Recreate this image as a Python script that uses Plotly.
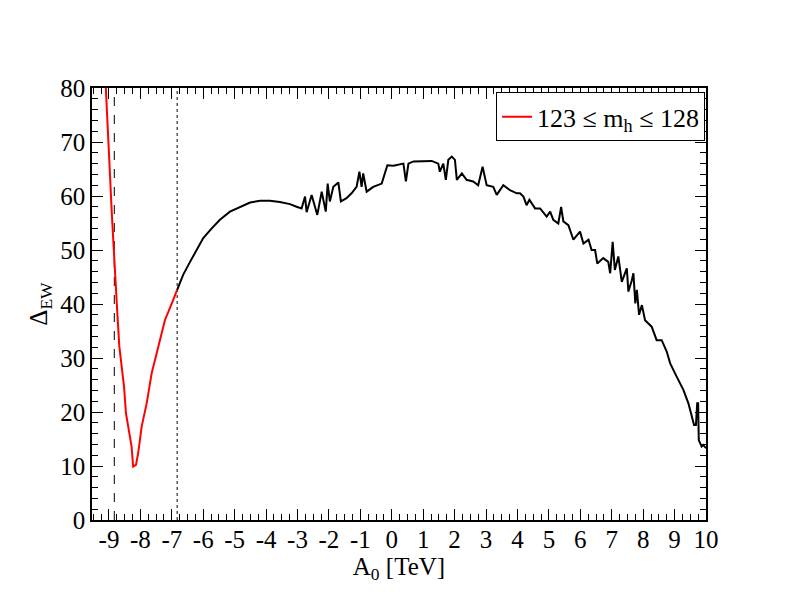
import plotly.graph_objects as go

# red part of the scan (123 <= m_h <= 128)
red_x = [-9.10, -9.02, -8.97, -8.91, -8.86, -8.83, -8.78, -8.74, -8.67, -8.60,
         -8.52, -8.46, -8.39, -8.28, -8.23, -8.14, -8.07, -7.96, -7.80, -7.64,
         -7.43, -7.22, -7.00, -6.83]
red_y = [80.0, 71.6, 64.2, 56.8, 51.3, 46.9, 43.2, 38.9, 32.1, 29.0,
         24.7, 19.8, 17.3, 13.6, 9.9, 10.2, 12.4, 17.3, 21.6, 27.2,
         32.1, 37.0, 40.1, 42.6]

# black part of the scan
blk_x = [-6.83, -6.64, -6.42, -6.21, -6.00, -5.73, -5.47, -5.15, -4.83, -4.51,
         -4.19, -3.88, -3.56, -3.24, -3.03, -2.87, -2.76, -2.71, -2.55, -2.37,
         -2.23, -2.10, -2.04, -1.97, -1.86, -1.70, -1.62, -1.44, -1.28, -1.12,
         -1.03, -0.96, -0.91, -0.80, -0.59, -0.32, -0.22, -0.14, 0.05, 0.37,
         0.45, 0.53, 0.69, 1.00, 1.27, 1.48, 1.53, 1.64, 1.72, 1.80,
         1.91, 2.01, 2.07, 2.23, 2.38, 2.59, 2.75, 2.89, 3.02, 3.23,
         3.34, 3.55, 3.76, 3.98, 4.08, 4.19, 4.29, 4.38, 4.56, 4.72,
         4.93, 5.04, 5.14, 5.30, 5.39, 5.46, 5.62, 5.78, 5.99, 6.10,
         6.26, 6.36, 6.47, 6.54, 6.73, 6.89, 6.95, 7.03, 7.10, 7.21,
         7.32, 7.48, 7.53, 7.64, 7.69, 7.75, 7.80, 7.87, 7.96, 8.06,
         8.27, 8.43, 8.59, 8.75, 8.86, 9.07, 9.28, 9.44, 9.54, 9.62,
         9.68, 9.72, 9.75, 9.77, 9.86, 9.91, 10.0]
blk_y = [42.6, 45.4, 47.8, 50.0, 52.2, 54.0, 55.6, 57.1, 58.0, 58.8,
         59.1, 59.1, 58.9, 58.5, 58.0, 57.7, 59.9, 57.0, 60.2, 56.5,
         60.8, 57.1, 62.3, 59.0, 61.7, 62.5, 59.0, 59.6, 60.5, 61.7,
         64.5, 61.7, 64.2, 60.8, 61.7, 62.3, 64.2, 65.7, 65.6, 66.0,
         62.7, 66.0, 66.4, 66.5, 66.5, 66.0, 64.5, 66.0, 63.0, 66.7,
         67.3, 66.7, 63.0, 64.2, 63.0, 62.7, 62.0, 65.4, 62.0, 61.7,
         60.2, 62.0, 61.1, 60.5, 60.5, 59.9, 58.3, 59.3, 57.7, 57.7,
         56.2, 57.1, 55.6, 54.9, 58.0, 55.3, 54.6, 51.9, 53.4, 51.2,
         51.9, 50.0, 50.0, 47.5, 48.5, 47.8, 45.7, 51.5, 46.3, 48.8,
         44.1, 46.6, 42.3, 44.4, 45.7, 40.1, 42.6, 38.0, 39.8, 37.0,
         35.8, 33.3, 33.3, 31.2, 29.0, 26.5, 24.1, 21.6, 19.1, 17.6,
         17.6, 21.6, 21.6, 14.8, 13.6, 13.9, 13.3]

dashed_at = -8.83
dotted_at = -6.83
x_ticks = list(range(-9, 11))
x_labels = [str(v) for v in x_ticks]   # plain hyphen, as in the original
y_ticks = list(range(0, 81, 10))
y_labels = [str(v) for v in y_ticks]

font = "Liberation Serif"

fig = go.Figure()
fig.add_trace(go.Scatter(x=[dashed_at, dashed_at], y=[0, 80], mode="lines",
                         line=dict(color="black", width=1, dash="dash"),
                         showlegend=False, hoverinfo="skip"))
fig.add_trace(go.Scatter(x=[dotted_at, dotted_at], y=[0, 80], mode="lines",
                         line=dict(color="black", width=1, dash="dot"),
                         showlegend=False, hoverinfo="skip"))
fig.add_trace(go.Scatter(x=blk_x, y=blk_y, mode="lines",
                         line=dict(color="black", width=2), showlegend=False))
fig.add_trace(go.Scatter(x=red_x, y=red_y, mode="lines",
                         line=dict(color="#ff0000", width=2),
                         name="123 \u2264 m<sub>h</sub> \u2264 128"))

axis_common = dict(
    showline=True, linecolor="black", linewidth=1.5, mirror="ticks",
    ticks="inside", ticklen=11, tickwidth=1.2, tickcolor="black",
    showgrid=False, zeroline=False,
    tickfont=dict(family=font, size=25, color="black"),
)

# the page body has an 8px margin, so the figure is 16px smaller than the window
fig.update_layout(
    width=776, height=596,
    margin=dict(l=84, r=78, t=80, b=84),
    paper_bgcolor="white", plot_bgcolor="white",
    font=dict(family=font, color="black"),
    xaxis=dict(range=[-9.54, 10], tickmode="array", tickvals=x_ticks, ticktext=x_labels,
               ticklabelstandoff=-4,
               minor=dict(dtick=0.25, ticks="inside", ticklen=6, tickcolor="black", tickwidth=1.2),
               title=dict(text="A<sub>0</sub> [TeV]", font=dict(family=font, size=25), standoff=0),
               **axis_common),
    yaxis=dict(range=[0, 80], tickmode="array", tickvals=y_ticks, ticktext=y_labels,
               minor=dict(dtick=2, ticks="inside", ticklen=6, tickcolor="black", tickwidth=1.2),
               title=dict(text="\u0394<sub>EW</sub>", font=dict(family=font, size=25), standoff=6),
               **axis_common),
    legend=dict(x=0.9985, y=0.99, xanchor="right", yanchor="top",
                bordercolor="black", borderwidth=1, bgcolor="white",
                font=dict(family=font, size=26)),
)

fig.write_html("out.html")
